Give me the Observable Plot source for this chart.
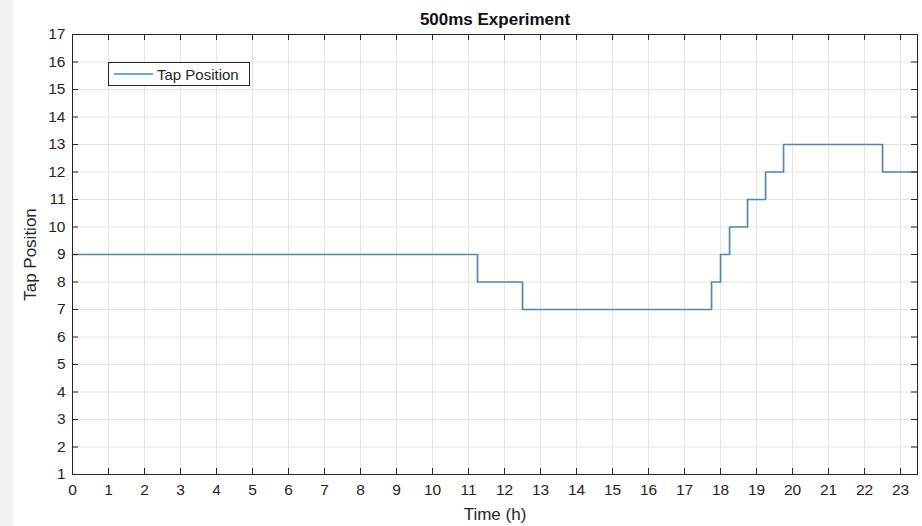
<!DOCTYPE html>
<html>
<head>
<meta charset="utf-8">
<script src="https://cdn.jsdelivr.net/npm/d3@7"></script>
<script src="https://cdn.jsdelivr.net/npm/@observablehq/plot@0.6"></script>
<style>
  html, body { margin: 0; padding: 0; }
  body { width: 922px; height: 526px; background: linear-gradient(to right, #f2f2f2 13px, #ffffff 13px); overflow: hidden; }
  #wrap { position: relative; width: 922px; height: 526px; }
  #legend { position: absolute; left: 108px; top: 62px; width: 142px; height: 24px; border: 1px solid #262626; background: #fff; box-sizing: border-box;
            font-family: "Liberation Sans", Arial, sans-serif; font-size: 15px; color: #262626; display: flex; align-items: center; }
  #legend .sw { width: 39px; height: 0; border-top: 2px solid #6aaad0; margin-left: 5px; margin-right: 4px; }
</style>
</head>
<body>
<div id="wrap">
  <div id="chart"></div>
  <div id="legend"><div class="sw"></div><span>Tap Position</span></div>
</div>
<script>
const titleText = "500ms Experiment";
const xLabel = "Time (h)";
const yLabel = "Tap Position";
const times = [0, 11.25, 12.5, 17.75, 18, 18.25, 18.75, 19.25, 19.75, 22.5, 23.47];
const taps  = [9, 8, 7, 8, 9, 10, 11, 12, 13, 12, 12];
const xTicks = [0,1,2,3,4,5,6,7,8,9,10,11,12,13,14,15,16,17,18,19,20,21,22,23];
const yTicks = [1,2,3,4,5,6,7,8,9,10,11,12,13,14,15,16,17];
const xDomain = [0, 23.47];
const yDomain = [1, 17];

const data = times.map((t, i) => ({t, v: taps[i]}));

const W = 922, H = 526, mT = 34, mB = 52, mL = 72, mR = 5;
const ih = H - mT - mB, iw = W - mL - mR, tk = 6;
const ink = "#262626";

const chart = Plot.plot({
  width: W, height: H,
  marginTop: mT, marginBottom: mB, marginLeft: mL, marginRight: mR,
  style: {fontFamily: "'Liberation Sans', Arial, sans-serif", background: "transparent", color: ink},
  x: {domain: xDomain, ticks: xTicks},
  y: {domain: yDomain, ticks: yTicks},
  marks: [
    Plot.frame({fill: "#fff"}),
    Plot.gridX(xTicks, {stroke: "#e4e4e4", strokeOpacity: 1}),
    Plot.gridY(yTicks, {stroke: "#e4e4e4", strokeOpacity: 1}),
    Plot.line(data, {x: "t", y: "v", curve: "step-after", stroke: "#5288b0", strokeWidth: 1.7}),
    Plot.tickX(xTicks, {x: d => d, insetTop: ih - tk, stroke: ink}),
    Plot.tickX(xTicks, {x: d => d, insetBottom: ih - tk, stroke: ink}),
    Plot.tickY(yTicks, {y: d => d, insetRight: iw - tk, stroke: ink}),
    Plot.tickY(yTicks, {y: d => d, insetLeft: iw - tk, stroke: ink}),
    Plot.frame({stroke: ink, strokeWidth: 1}),
    Plot.axisX(xTicks, {tickSize: 0, tickPadding: 9, label: null, fontSize: 15.5, fill: ink}),
    Plot.axisY(yTicks, {tickSize: 0, tickPadding: 7, label: null, fontSize: 15.5, fill: ink}),
    Plot.text([xLabel], {frameAnchor: "bottom", lineAnchor: "middle", dy: 40, fontSize: 17, fill: ink}),
    Plot.text([yLabel], {frameAnchor: "left", textAnchor: "middle", lineAnchor: "middle", rotate: -90, dx: -42, fontSize: 17, fill: ink}),
    Plot.text([titleText], {frameAnchor: "top", lineAnchor: "middle", dy: -15, fontSize: 17, fontWeight: "bold", fill: "#111"})
  ]
});
document.getElementById("chart").appendChild(chart);
</script>
</body>
</html>
